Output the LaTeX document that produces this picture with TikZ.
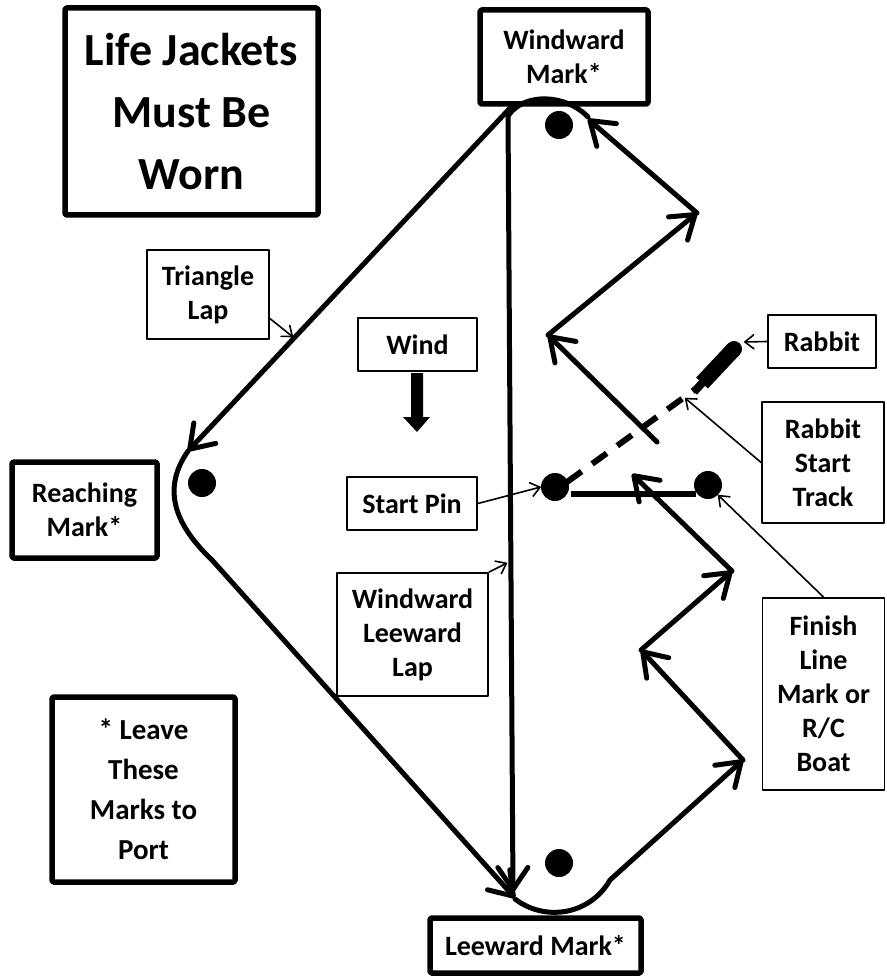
\documentclass[tikz,border=0pt]{standalone}
\usepackage{fontspec}
\setmainfont{Carlito}
\usetikzlibrary{arrows.meta}

\begin{document}
\begin{tikzpicture}[line cap=round,line join=round,>={Straight Barb[length=22pt,width=30pt,round]},x=1pt,y=-1pt,
		markbox/.style={draw,line width=5.5pt,rounded corners=1.5pt,align=center,inner sep=0pt,font=\fontsize{28}{34}\selectfont\bfseries},
		notebox/.style={draw,line width=1.8pt,align=center,inner sep=0pt,font=\fontsize{28}{34}\selectfont\bfseries},
		buoy/.style={circle,fill=black,inner sep=0pt,minimum size=28pt},
		leg/.style={line width=5pt,->},
		pointer/.style={line width=1.6pt,-{Straight Barb[length=9pt,width=14pt,round]}}]
		\useasboundingbox (0,0) rectangle (886,976);
		\node[markbox,minimum width=253pt,minimum height=207pt,font=\fontsize{46}{62}\selectfont\bfseries] (jackets) at (191.5,111.5) {Life Jackets\\Must Be\\Worn};
		\node[markbox,minimum width=168pt,minimum height=94pt] (windward) at (564,57) {Windward\\Mark*};
		\node[markbox,minimum width=145pt,minimum height=96pt] (reaching) at (84.5,510) {Reaching\\Mark*};
		\node[markbox,minimum width=211pt,minimum height=55pt] (leeward) at (535.5,945.5) {Leeward Mark*};
		\node[markbox,minimum width=183pt,minimum height=185pt,font=\fontsize{29}{40}\selectfont\bfseries] (leave) at (143.5,789.5) {* Leave\\These\\Marks to\\Port};
		\node[notebox,minimum width=122pt,minimum height=89pt] (trilap) at (208,294.5) {Triangle\\Lap};
		\node[notebox,minimum width=119pt,minimum height=53pt] (wind) at (417.5,344.5) {Wind};
		\node[notebox,minimum width=130pt,minimum height=53pt] (startpin) at (412,503.5) {Start Pin};
		\node[notebox,minimum width=151pt,minimum height=123pt] (wllap) at (412.5,634.5) {Windward\\Leeward\\Lap};
		\node[notebox,minimum width=108pt,minimum height=53pt] (rabbit) at (822,341.5) {Rabbit};
		\node[notebox,minimum width=122pt,minimum height=121pt] (rstrack) at (823,462.5) {Rabbit\\Start\\Track};
		\node[notebox,minimum width=122pt,minimum height=192pt] (finish) at (823.5,694) {Finish\\Line\\Mark or\\R/C\\Boat};
		\node[buoy] (wdot) at (559,125) {};
		\node[buoy] (rdot) at (202,483) {};
		\node[buoy] (ldot) at (559,863) {};
		\node[buoy] (pin) at (555,487) {};
		\node[buoy] (fin) at (708,485) {};
		\coordinate (trileg) at (293,337);
		\coordinate (wlleg) at (507,563);
		\coordinate (boat) at (744,342);
		\coordinate (track) at (685,398);
		\draw[leg] (588,117) .. controls (566,94) and (524,92) .. (508,116) -- (513,892);
		\draw[leg] (512,106) -- (188,451);
		\draw[leg] (188,451) .. controls (163,487) and (172,522) .. (212,560) -- (515,898);
		\draw[leg] (515,899) .. controls (545,922) and (590,915) .. (610,880) -- (743,760);
		\draw[leg] (743,760) -- (641,650);
		\draw[leg] (641,650) -- (732,571);
		\draw[leg] (732,571) -- (632,474);
		\draw[leg] (657,442) -- (548,335);
		\draw[leg] (548,335) -- (697,213);
		\draw[leg] (697,213) -- (588,119);
		\draw[line width=6pt,line cap=butt] (571,494) -- (696,494);
		\draw[line width=6pt,line cap=butt,dash pattern=on 18pt off 13pt] (567,482) -- (697,388);
		\draw[line width=16pt,line cap=butt] (702,383) -- (733,350);
		\draw[line width=16pt,line cap=round] (731,352) -- (734,349);
		\draw[line width=8pt,line cap=butt] (694,392) -- (703,382);
		\fill (411,373) -- (423,373) -- (423,417) -- (430,417) -- (417,432) -- (403,417) -- (411,417) -- cycle;
		\draw[pointer] ([yshift=-24pt]trilap.east) -- (trileg);
		\draw[pointer] (startpin.east) -- (pin.west);
		\draw[pointer] (wllap.north east) -- (wlleg);
		\draw[pointer] (rabbit.west) -- (boat);
		\draw[pointer] (rstrack.west) -- (track);
		\draw[pointer] (finish.north) -- (fin.south east);
	\end{tikzpicture}
\end{document}
